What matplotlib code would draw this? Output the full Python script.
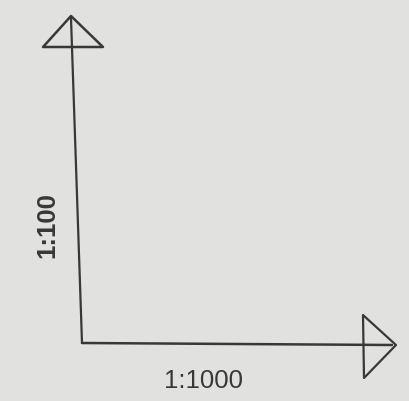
import matplotlib.pyplot as plt
from matplotlib.patches import Polygon

# Diagram geometry in image pixels (origin top-left)
origin = (82, 343)
y_axis_top = (71, 18)
x_axis_end = (392, 345)
y_head = [(71, 16), (43, 47), (103, 47)]
x_head = [(396, 345), (363, 315), (364, 378)]
x_label = "1:1000"
y_label = "1:100"

ink = "#383838"
paper = "#e1e2df"

fig = plt.figure(figsize=(4.1, 4.01), dpi=100, facecolor=paper)
ax = fig.add_axes([0, 0, 1, 1])
ax.set_facecolor(paper)
ax.set_xlim(0, 410)
ax.set_ylim(401, 0)
ax.axis("off")

# axes lines, running on into the arrowheads
ax.plot([y_axis_top[0], origin[0]], [y_axis_top[1], origin[1]], color=ink, lw=1.6, solid_capstyle="round")
ax.plot([origin[0], x_axis_end[0]], [origin[1], x_axis_end[1]], color=ink, lw=1.8, solid_capstyle="round")

# open triangle arrowheads
ax.add_patch(Polygon(y_head, closed=True, fill=False, edgecolor=ink, lw=1.8, joinstyle="round"))
ax.add_patch(Polygon(x_head, closed=True, fill=False, edgecolor=ink, lw=1.6, joinstyle="round"))

ax.text(204, 381, x_label, ha="center", va="center", fontsize=18.5, color=ink, family="Liberation Sans")
ax.text(47, 225, y_label, ha="center", va="center", rotation=90, fontsize=18.5, color=ink,
        family="Liberation Sans", fontweight="bold")

fig.savefig("out.png", dpi=100, facecolor=paper)
